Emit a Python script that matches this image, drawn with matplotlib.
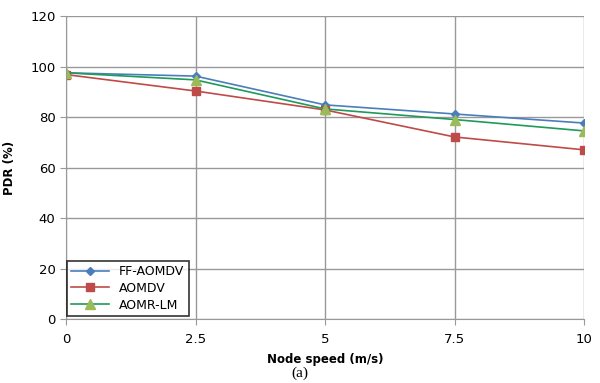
import matplotlib
matplotlib.use('Agg')
import matplotlib.pyplot as plt

# Data
speeds = [0, 2.5, 5, 7.5, 10]
ff_aomdv = [97.5, 96.2, 84.8, 81.2, 77.6]
aomdv = [96.8, 90.3, 82.8, 72.1, 67.0]
aomr_lm = [97.5, 94.7, 83.2, 79.0, 74.5]
x_ticks = [0, 2.5, 5, 7.5, 10]
x_tick_labels = ['0', '2.5', '5', '7.5', '10']
y_ticks = [0, 20, 40, 60, 80, 100, 120]

fig = plt.figure(figsize=(6.0, 3.83), dpi=100)
ax = fig.add_axes([66 / 600, 1 - 319 / 383, 518 / 600, 303 / 383])

ax.plot(speeds, ff_aomdv, color='#4a7ebb', marker='D', markersize=4.5,
        linewidth=1.2, label='FF-AOMDV')
ax.plot(speeds, aomdv, color='#be4b48', marker='s', markersize=5.5,
        linewidth=1.2, label='AOMDV')
ax.plot(speeds, aomr_lm, color='#1f9a5a', marker='^', markersize=6.5,
        markerfacecolor='#9bbb59', markeredgecolor='#9bbb59',
        linewidth=1.2, label='AOMR-LM')

ax.set_xlim(0, 10)
ax.set_ylim(0, 120)
ax.set_xticks(x_ticks)
ax.set_xticklabels(x_tick_labels)
ax.set_yticks(y_ticks)
ax.grid(True, color='#999999', linewidth=1.0)
ax.set_axisbelow(True)
for side in ['top', 'right']:
    ax.spines[side].set_visible(False)
for side in ['left', 'bottom']:
    ax.spines[side].set_color('#999999')
ax.tick_params(axis='both', colors='#999999', labelcolor='black',
               labelsize=9.5, length=4, direction='out')
ax.tick_params(axis='x', pad=6)

ax.set_xlabel('Node speed (m/s)', fontsize=8.5, fontweight='bold', labelpad=5)
ax.set_ylabel('PDR (%)', fontsize=8.5, fontweight='bold', labelpad=10)

leg = ax.legend(loc='lower left', bbox_to_anchor=(0.002, 0.01), fontsize=9,
                frameon=True, fancybox=False, borderpad=0.35,
                borderaxespad=0.0, handlelength=3.0, labelspacing=0.3)
leg.get_frame().set_edgecolor('black')
leg.get_frame().set_linewidth(1.2)

fig.text(0.5, 1 - 373 / 383, '(a)', ha='center', va='center',
         fontsize=11, family='Liberation Serif')

fig.savefig('out.png', dpi=100)
